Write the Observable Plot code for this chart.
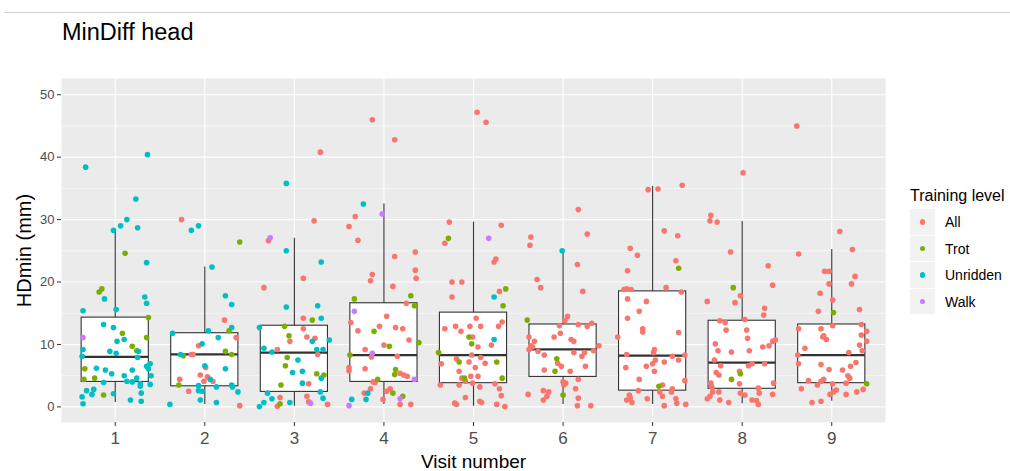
<!DOCTYPE html>
<html>
<head>
<meta charset="utf-8">
<script src="https://cdn.jsdelivr.net/npm/d3@7"></script>
<script src="https://cdn.jsdelivr.net/npm/@observablehq/plot@0.6"></script>
<style>
  body { margin: 0; background: #fff; font-family: "Liberation Sans", Arial, sans-serif; }
  #wrap { position: relative; width: 1010px; height: 471px; overflow: hidden; }
  #chart { position: absolute; left: 0; top: 0; }
  #topline { position: absolute; left: 4px; right: 0; top: 12px; height: 1px; background: #d6d6d6; }
  #title { position: absolute; left: 62px; top: 21px; font-size: 23.5px; line-height: 23px; color: #000; white-space: nowrap; }
  #legend { position: absolute; left: 910px; top: 186px; }
  .ltitle { font-size: 16px; line-height: 20px; height: 23px; color: #000; white-space: nowrap; }
  .lrow { position: relative; height: 26.5px; }
  .lkey { position: absolute; left: 0; top: 0; width: 25px; height: 25.5px; background: #F2F2F2; }
  .ldot { position: absolute; left: 10px; top: 10.2px; width: 5.4px; height: 5.4px; border-radius: 50%; }
  .llabel { position: absolute; left: 35px; top: 0; font-size: 14px; line-height: 26px; color: #000; white-space: nowrap; }
</style>
</head>
<body>
<div id="wrap">
  <div id="chart"></div>
  <div id="topline"></div>
  <div id="title">MinDiff head</div>
  <div id="legend"></div>
</div>
<script>
// Training levels and their colours
const levels = ["All", "Trot", "Unridden", "Walk"];
const levelColors = ["#F8766D", "#7CAE00", "#00BFC4", "#C77CFF"];

// Visit numbers (x categories) and y-axis ticks
const visits = [1, 2, 3, 4, 5, 6, 7, 8, 9];
const majorY = [0, 10, 20, 30, 40, 50];
const minorY = [5, 15, 25, 35, 45];

// Box summaries per visit: lower whisker, Q1, median, Q3, upper whisker (mm)
const whiskerLo = [0.7, 0.4, 0.1, 0.4, 0.1, 0.4, 0.4, 0.5, 0.9];
const q1        = [4.0, 3.3, 2.4, 4.0, 3.8, 4.8, 2.6, 2.9, 3.8];
const median    = [8.0, 8.4, 8.7, 8.3, 8.3, 9.2, 8.2, 7.1, 8.3];
const q3        = [14.3, 11.8, 13.0, 16.6, 15.1, 13.2, 18.5, 13.8, 13.2];
const whiskerHi = [28.3, 22.4, 27.0, 32.5, 29.6, 25.0, 35.3, 29.7, 25.2];

// Individual measurements: [visit, horizontal jitter, HDmin (mm)]
const allPts = [
  [2,-0.26,30.0],[2,0.22,13.9],[2,0.35,11.1],[2,-0.07,9.8],[2,-0.15,8.4],[2,-0.13,8.4],[2,0.01,6.3],
  [2,-0.05,5.1],[2,0.03,4.8],[2,-0.01,4.1],[2,0.09,4.1],[2,-0.28,4.4],[2,-0.18,2.5],[2,0.39,0.2],
  [3,0.29,40.8],[3,0.22,29.8],[3,-0.29,26.6],[3,-0.34,19.1],[3,0.10,20.6],[3,0.10,14.2],[3,0.10,12.5],
  [3,0.14,11.2],[3,0.23,11.0],[3,-0.05,10.5],[3,-0.19,9.2],[3,0.26,8.4],[3,0.16,3.7],[3,0.14,1.7],
  [3,-0.16,1.5],[3,-0.19,0.1],[3,0.16,0.8],[3,0.37,0.4],
  [4,-0.13,46.0],[4,0.12,42.8],[4,-0.32,30.5],[4,-0.39,28.9],[4,-0.29,26.7],[4,0.12,24.1],[4,0.35,24.8],
  [4,0.35,21.9],[4,0.36,20.6],[4,-0.13,21.2],[4,-0.15,20.2],[4,0.10,19.3],[4,0.25,16.6],[4,0.03,14.5],
  [4,-0.37,13.5],[4,-0.29,12.2],[4,-0.05,12.9],[4,0.13,12.7],[4,0.21,12.5],[4,0.28,10.7],[4,0.00,9.9],
  [4,-0.21,9.2],[4,-0.14,8.0],[4,0.15,8.1],[4,-0.39,6.3],[4,-0.39,5.8],[4,-0.21,6.1],[4,0.18,5.4],
  [4,0.22,5.1],[4,0.26,4.9],[4,-0.12,4.0],[4,-0.10,3.9],[4,-0.15,2.9],[4,-0.22,2.2],[4,0.03,2.5],
  [4,0.07,2.9],[4,-0.01,1.2],[4,0.18,0.4],[4,0.30,0.4],
  [5,0.04,47.2],[5,0.14,45.6],[5,-0.27,29.6],[5,0.31,29.1],[5,-0.32,26.2],[5,0.23,23.2],[5,0.25,23.7],
  [5,-0.24,20.0],[5,-0.13,20.0],[5,-0.24,17.6],[5,0.29,18.5],[5,0.03,14.2],[5,-0.32,12.5],[5,-0.20,12.9],
  [5,-0.14,12.1],[5,-0.04,12.9],[5,0.08,12.9],[5,0.28,12.9],[5,0.32,13.6],[5,-0.01,11.2],[5,0.05,9.6],
  [5,0.20,9.9],[5,-0.02,8.3],[5,0.08,7.9],[5,-0.19,7.7],[5,-0.36,6.9],[5,-0.05,7.2],[5,0.13,7.0],
  [5,0.02,6.3],[5,-0.16,5.7],[5,-0.03,4.9],[5,0.05,4.9],[5,-0.13,4.6],[5,-0.09,4.1],[5,-0.01,3.8],
  [5,-0.37,3.5],[5,-0.16,3.5],[5,0.24,3.7],[5,0.29,2.9],[5,0.07,3.2],[5,0.31,1.8],[5,-0.09,1.5],
  [5,-0.21,0.6],[5,-0.19,0.4],[5,0.07,0.9],[5,0.09,0.7],[5,0.26,0.4],[5,0.35,0.05],
  [6,0.17,31.6],[6,-0.36,27.2],[6,-0.37,25.9],[6,0.27,27.7],[6,0.16,22.8],[6,-0.29,20.4],[6,-0.25,19.1],
  [6,0.22,18.5],[6,0.05,14.5],[6,0.02,13.8],[6,-0.04,13.0],[6,0.17,13.2],[6,0.27,12.9],[6,0.32,13.4],
  [6,-0.03,11.8],[6,-0.10,11.2],[6,-0.38,11.2],[6,0.09,10.8],[6,0.12,10.5],[6,-0.32,10.5],[6,-0.36,9.8],
  [6,-0.38,9.2],[6,-0.34,9.6],[6,-0.28,8.9],[6,0.40,9.8],[6,0.34,9.0],[6,0.24,8.7],[6,0.21,8.1],
  [6,0.12,8.7],[6,-0.21,8.3],[6,-0.06,7.0],[6,-0.02,6.5],[6,0.25,6.5],[6,-0.21,5.9],[6,0.08,5.7],
  [6,0.17,4.4],[6,0.00,4.0],[6,0.01,3.5],[6,0.03,3.8],[6,0.14,2.9],[6,-0.22,2.6],[6,-0.16,2.4],
  [6,-0.39,2.0],[6,-0.18,1.7],[6,-0.22,1.1],[6,0.17,1.4],[6,0.16,0.2],[6,0.31,0.2],
  [7,-0.05,34.8],[7,0.06,34.9],[7,0.33,35.5],[7,0.13,28.2],[7,0.28,27.4],[7,-0.25,25.4],[7,-0.17,24.3],
  [7,0.26,23.4],[7,-0.28,21.8],[7,-0.32,18.8],[7,-0.29,18.9],[7,-0.24,18.8],[7,0.15,19.1],[7,0.32,18.4],
  [7,-0.28,17.3],[7,-0.07,16.9],[7,-0.15,15.3],[7,-0.28,14.2],[7,-0.11,12.5],[7,-0.11,12.0],[7,0.29,11.9],
  [7,-0.39,11.2],[7,0.02,9.2],[7,0.01,8.7],[7,-0.29,8.4],[7,0.22,8.1],[7,0.36,8.3],[7,0.29,7.5],
  [7,0.13,7.2],[7,0.03,7.5],[7,0.00,6.9],[7,-0.07,6.5],[7,-0.30,6.3],[7,0.02,5.7],[7,-0.15,4.4],
  [7,0.36,4.2],[7,0.22,2.9],[7,0.21,2.4],[7,0.11,3.5],[7,-0.16,2.6],[7,0.08,2.4],[7,-0.26,1.9],
  [7,-0.25,1.4],[7,-0.29,1.1],[7,-0.23,0.7],[7,-0.06,1.3],[7,0.11,1.7],[7,0.26,1.3],[7,0.27,0.6],
  [7,0.37,0.4],[7,0.13,0.2],
  [8,0.01,37.5],[8,-0.35,30.7],[8,-0.36,29.8],[8,-0.28,29.6],[8,-0.13,24.8],[8,0.29,22.6],[8,0.34,19.5],
  [8,-0.02,17.8],[8,-0.08,16.7],[8,-0.39,16.9],[8,0.25,15.8],[8,0.24,14.7],[8,0.03,14.0],[8,-0.25,13.8],
  [8,-0.19,13.5],[8,-0.18,12.3],[8,0.05,12.3],[8,0.06,11.0],[8,-0.30,10.1],[8,-0.27,9.0],[8,-0.12,8.8],
  [8,0.08,9.0],[8,0.23,9.6],[8,0.30,9.8],[8,0.34,10.5],[8,0.37,10.7],[8,-0.31,7.5],[8,-0.24,6.6],
  [8,0.07,6.6],[8,0.11,6.9],[8,0.25,6.9],[8,-0.03,5.7],[8,-0.29,5.5],[8,-0.26,5.1],[8,-0.35,3.8],
  [8,-0.03,3.7],[8,0.35,3.8],[8,-0.34,3.2],[8,-0.33,2.4],[8,-0.26,2.4],[8,0.18,3.0],[8,0.19,2.2],
  [8,-0.02,2.2],[8,0.03,1.9],[8,0.34,2.0],[8,-0.36,1.7],[8,-0.39,1.3],[8,-0.25,1.1],[8,-0.15,0.7],
  [8,0.11,1.1],[8,0.16,1.0],[8,0.18,0.4],
  [9,-0.39,45.0],[9,0.09,28.1],[9,-0.37,24.5],[9,0.23,25.2],[9,-0.08,21.7],[9,-0.03,21.7],[9,0.26,20.9],
  [9,-0.03,19.7],[9,0.22,19.7],[9,-0.13,18.2],[9,0.01,17.1],[9,-0.15,15.3],[9,0.31,15.6],[9,0.01,13.0],
  [9,-0.37,12.5],[9,0.33,13.2],[9,-0.12,12.5],[9,0.39,12.1],[9,0.33,11.5],[9,-0.09,11.4],[9,-0.10,11.2],
  [9,-0.06,10.8],[9,0.39,10.5],[9,0.31,9.9],[9,0.34,9.0],[9,-0.30,9.4],[9,-0.38,8.3],[9,0.19,8.7],
  [9,-0.37,6.9],[9,0.27,7.1],[9,-0.12,6.8],[9,0.21,6.5],[9,-0.03,6.0],[9,0.12,5.9],[9,0.18,5.0],
  [9,0.20,4.6],[9,-0.09,4.4],[9,-0.12,4.1],[9,-0.26,4.2],[9,-0.16,3.5],[9,0.16,3.8],[9,0.01,3.7],
  [9,-0.34,2.9],[9,0.05,2.7],[9,0.02,2.4],[9,0.35,2.8],[9,0.28,2.4],[9,0.16,2.0],[9,-0.02,2.0],
  [9,-0.22,0.7],[9,-0.12,0.9]
];
const trotPts = [
  [1,0.11,24.6],[1,-0.15,18.9],[1,-0.18,18.4],[1,0.37,14.3],[1,0.08,11.8],[1,0.19,9.7],[1,0.24,9.0],
  [1,0.35,11.1],[1,-0.34,6.1],[1,-0.35,4.4],[1,-0.23,4.6],[1,-0.13,1.9],
  [2,0.39,26.4],[2,0.27,12.2],[2,0.23,8.9],[2,0.30,8.4],[2,-0.24,8.2],[2,-0.29,3.5],
  [3,-0.11,12.9],[3,-0.06,11.4],[3,0.20,13.9],[3,-0.08,7.9],[3,-0.10,6.6],[3,0.25,5.3],[3,0.33,5.1],
  [3,-0.15,3.5],[3,-0.16,0.5],
  [4,-0.33,17.3],[4,0.30,17.8],[4,0.34,16.2],[4,-0.11,12.1],[4,0.06,9.7],[4,0.39,10.3],[4,-0.38,8.3],
  [4,-0.07,4.4],[4,0.13,6.0],[4,0.12,5.2],[4,0.10,2.2],[4,0.21,1.7],
  [5,-0.28,27.0],[5,0.36,18.9],[5,0.33,16.2],[5,-0.05,11.2],[5,-0.02,10.1],[5,-0.39,8.7],[5,-0.16,7.2],
  [5,0.26,7.2],[5,0.32,4.6],[5,-0.10,4.6],
  [6,-0.40,13.9],[6,-0.07,7.7],[6,-0.09,5.7],[6,0.00,1.9],
  [7,0.29,22.2],[7,0.07,3.3],
  [8,-0.10,19.1],[8,-0.02,5.3],[8,-0.12,4.4],
  [9,0.02,15.1],[9,0.39,3.7]
];
const unriddenPts = [
  [1,-0.33,38.4],[1,0.36,40.4],[1,0.23,33.3],[1,-0.02,28.3],[1,0.06,29.0],[1,0.13,30.0],[1,0.25,28.7],
  [1,0.35,23.1],[1,0.33,17.6],[1,0.35,16.6],[1,-0.12,17.3],[1,-0.36,15.4],[1,0.01,15.6],[1,-0.13,13.2],
  [1,-0.02,12.7],[1,0.10,10.8],[1,0.02,10.5],[1,-0.06,8.9],[1,0.01,8.6],[1,0.26,8.9],[1,-0.36,9.2],
  [1,-0.37,8.1],[1,0.25,7.9],[1,-0.21,6.2],[1,-0.11,5.9],[1,-0.04,5.3],[1,0.19,5.9],[1,0.35,6.5],
  [1,0.39,6.9],[1,0.37,6.1],[1,0.40,5.0],[1,0.10,5.0],[1,0.24,4.6],[1,0.13,4.1],[1,0.19,4.0],
  [1,0.28,3.7],[1,0.28,3.3],[1,0.39,3.6],[1,-0.13,3.9],[1,-0.32,2.6],[1,-0.24,2.8],[1,-0.26,2.0],
  [1,-0.37,1.6],[1,-0.36,0.5],[1,-0.02,2.1],[1,0.17,1.1],[1,0.29,0.9],[1,0.29,2.2],
  [2,-0.15,28.3],[2,-0.07,29.0],[2,0.08,22.4],[2,0.23,17.8],[2,0.30,16.4],[2,0.30,12.7],[2,0.04,12.2],
  [2,-0.36,11.8],[2,0.15,11.1],[2,-0.03,10.1],[2,-0.27,8.4],[2,0.00,6.6],[2,0.23,6.1],[2,0.06,4.4],
  [2,-0.07,3.4],[2,-0.07,2.6],[2,-0.03,2.5],[2,0.13,3.2],[2,0.30,3.5],[2,0.31,3.2],[2,0.37,2.4],
  [2,-0.05,1.1],[2,0.13,0.7],[2,-0.39,0.4],
  [3,-0.09,35.8],[3,-0.09,25.0],[3,0.30,23.2],[3,-0.09,16.0],[3,0.26,16.2],[3,0.30,14.2],[3,-0.39,12.7],
  [3,0.39,10.7],[3,-0.34,9.4],[3,-0.25,8.8],[3,0.25,9.2],[3,0.32,9.2],[3,0.04,7.5],[3,-0.02,5.5],
  [3,0.09,5.7],[3,0.20,10.5],[3,0.09,3.8],[3,0.30,4.6],[3,-0.30,2.2],[3,-0.34,0.7],[3,-0.39,0.05],
  [3,-0.25,1.3],[3,-0.05,0.7],[3,0.29,2.4],[3,0.32,1.4],
  [4,-0.23,32.5],[4,-0.18,2.2],[4,-0.20,1.2],[4,-0.36,1.2],
  [5,0.23,17.6],[5,0.23,10.8],
  [6,-0.01,25.0]
];
const walkPts = [
  [1,-0.36,11.1],
  [3,-0.27,27.1],[3,0.18,0.6],
  [4,-0.02,30.9],[4,-0.33,15.3],[4,-0.13,8.6],[4,0.34,4.4],[4,0.18,1.3],[4,-0.39,0.2],
  [5,0.17,27.0]
];

// Tidy tables built from the arrays above
const boxes = visits.map((v, i) => ({
  visit: v, lo: whiskerLo[i], q1: q1[i], median: median[i], q3: q3[i], hi: whiskerHi[i]
}));
const seriesByLevel = {All: allPts, Trot: trotPts, Unridden: unriddenPts, Walk: walkPts};
const points = levels.flatMap(level =>
  seriesByLevel[level].map(([visit, jitter, value]) => ({visit, jitter, value, level}))
);

const halfBox = 0.375;

const chart = Plot.plot({
  width: 1010,
  height: 471,
  marginLeft: 61,
  marginRight: 125,
  marginTop: 78,
  marginBottom: 49,
  style: {fontFamily: "'Liberation Sans', Arial, sans-serif", background: "transparent", overflow: "visible"},
  x: {domain: [0.4, 9.6]},
  y: {domain: [-2.5, 52.6]},
  color: {domain: levels, range: levelColors},
  marks: [
    Plot.frame({fill: "#EBEBEB", stroke: null}),
    Plot.ruleY(minorY, {stroke: "#ffffff", strokeWidth: 0.55}),
    Plot.ruleY(majorY, {stroke: "#ffffff", strokeWidth: 1.1}),
    Plot.ruleX(visits, {stroke: "#ffffff", strokeWidth: 1.1}),
    Plot.ruleX(boxes, {x: "visit", y1: "lo", y2: "hi", stroke: "#333333", strokeWidth: 1.1}),
    Plot.rect(boxes, {
      x1: d => d.visit - halfBox, x2: d => d.visit + halfBox, y1: "q1", y2: "q3",
      fill: "#ffffff", stroke: "#333333", strokeWidth: 1.1
    }),
    Plot.ruleY(boxes, {
      y: "median", x1: d => d.visit - halfBox, x2: d => d.visit + halfBox,
      stroke: "#333333", strokeWidth: 2.2
    }),
    Plot.dot(points, {x: d => d.visit + d.jitter, y: "value", fill: "level", r: 2.8, stroke: null}),
    Plot.axisY(majorY, {tickSize: 4, tickPadding: 3, fontSize: 13, stroke: "#333333", fill: "#4D4D4D", label: null}),
    Plot.axisX(visits, {tickSize: 4, tickPadding: 5, fontSize: 17, stroke: "#333333", fill: "#4D4D4D", label: null}),
    Plot.text(["HDmin (mm)"], {
      frameAnchor: "left", dx: -37, rotate: -90, fontSize: 20,
      textAnchor: "middle", lineAnchor: "middle", fill: "#000"
    }),
    Plot.text(["Visit number"], {
      frameAnchor: "bottom", dy: 39, fontSize: 19,
      textAnchor: "middle", lineAnchor: "middle", fill: "#000"
    })
  ]
});
document.getElementById("chart").appendChild(chart);

// Legend: key boxes with a dot and the level name
const legend = document.getElementById("legend");
legend.innerHTML = `<div class="ltitle">Training level</div>` +
  levels.map((l, i) =>
    `<div class="lrow"><div class="lkey"><div class="ldot" style="background:${levelColors[i]}"></div></div>` +
    `<div class="llabel">${l}</div></div>`
  ).join("");
</script>
</body>
</html>
